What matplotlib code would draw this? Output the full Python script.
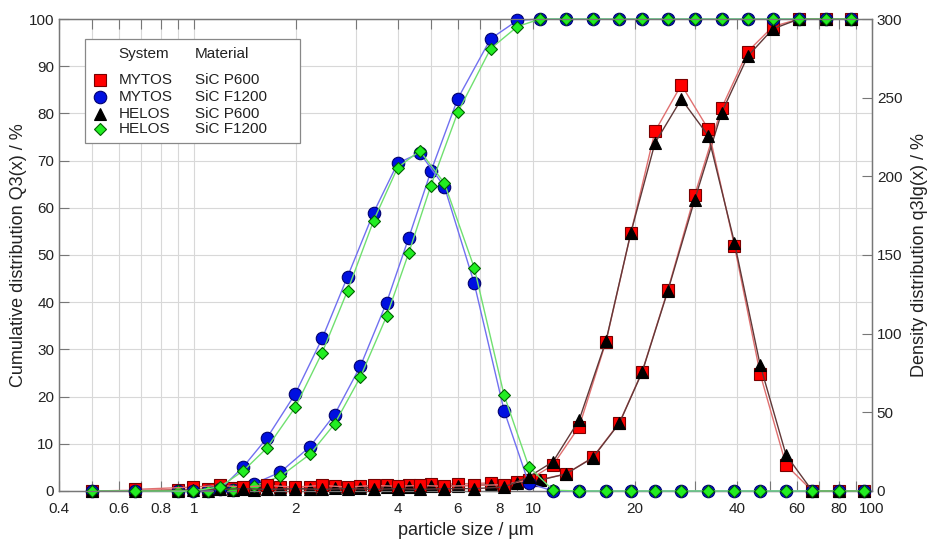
import numpy as np
import matplotlib

matplotlib.use("Agg")
import matplotlib.pyplot as plt
from matplotlib.patches import Rectangle
from matplotlib.lines import Line2D

plt.rcParams["font.family"] = ["Liberation Sans", "DejaVu Sans"]

# class upper bounds (cumulative) and class geometric means (density)
cum_x = [0.5, 0.9, 1.1, 1.3, 1.5, 1.8, 2.2, 2.6, 3.1, 3.7, 4.3, 5.0, 6.0, 7.5,
         9.0, 10.5, 12.5, 15, 18, 21, 25, 30, 36, 43, 51, 61, 73, 87]
dens_x = [0.67, 0.995, 1.196, 1.40, 1.64, 1.99, 2.39, 2.84, 3.39, 3.99, 4.64,
          5.48, 6.71, 8.22, 9.72, 11.46, 13.69, 16.43, 19.44, 22.9, 27.4,
          32.9, 39.3, 46.8, 55.8, 66.7, 79.7, 94.7]

# Q3(x) / %
mytos_p600_q3 = [0, 0.3, 0.5, 0.6, 0.7, 0.8, 0.9, 1.0, 1.1, 1.2, 1.3, 1.4,
                 1.5, 1.7, 2.0, 2.4, 3.6, 7.1, 14.5, 25.3, 42.6, 62.7, 81.1,
                 93.1, 98.4, 100, 100, 100]
mytos_f1200_q3 = [0, 0, 0, 0.3, 1.5, 4.0, 9.4, 16.2, 26.5, 39.9, 53.6, 67.7,
                  83.1, 95.8, 99.7, 100, 100, 100, 100, 100, 100, 100, 100,
                  100, 100, 100, 100, 100]
helos_p600_q3 = [0, 0, 0.1, 0.2, 0.3, 0.4, 0.5, 0.6, 0.7, 0.8, 0.9, 1.0,
                 1.1, 1.3, 1.6, 2.3, 3.6, 7.0, 14.4, 25.2, 42.4, 61.7, 80.1,
                 92.1, 97.9, 100, 100, 100]
helos_f1200_q3 = [0, 0, 0, 0.2, 1.0, 3.1, 7.8, 14.2, 24.2, 37.0, 50.4, 64.7,
                  80.2, 93.7, 98.4, 100, 100, 100, 100, 100, 100, 100, 100,
                  100, 100, 100, 100, 100]

# q3lg(x) / %
mytos_p600_q3lg = [1, 2.5, 3.5, 2.5, 3.5, 2.5, 3.5, 2.5, 3.5, 3, 3.5, 3, 3.5,
                   4, 7, 16.5, 40.9, 95.0, 163.9, 228.5, 258.2, 230, 155.8,
                   74.4, 16.5, 0, 0, 0]
mytos_f1200_q3lg = [0, 0, 1, 15.5, 33.5, 61.7, 97, 136.3, 177, 208.4, 214.8,
                    193.5, 132.1, 51.1, 4.9, 0, 0, 0, 0, 0, 0, 0, 0, 0, 0, 0,
                    0, 0]
helos_p600_q3lg = [0, 0.5, 1, 1.5, 1, 1.5, 1, 1.5, 1, 1.5, 1, 1.5, 1.5, 2.5,
                   9, 18.6, 45.2, 95.5, 164, 221.1, 249.1, 225.8, 157.9, 80.1,
                   22.9, 0, 0, 0]
helos_f1200_q3lg = [0, 0, 2.7, 12.9, 27.2, 53.2, 88, 127.4, 171.9, 205.6,
                    216.2, 195.7, 142, 61, 15.5, 0.5, 0, 0, 0, 0, 0, 0, 0, 0,
                    0, 0, 0, 0]

systems = ["MYTOS", "MYTOS", "HELOS", "HELOS"]
materials = ["SiC P600", "SiC F1200", "SiC P600", "SiC F1200"]

series = [
    (mytos_p600_q3, mytos_p600_q3lg,
     dict(marker="s", ms=9, mfc="#ff0000", mec="#7a0000"), "#e07070"),
    (mytos_f1200_q3, mytos_f1200_q3lg,
     dict(marker="o", ms=9, mfc="#0010e0", mec="#000070"), "#7070f0"),
    (helos_p600_q3, helos_p600_q3lg,
     dict(marker="^", ms=8.5, mfc="#000000", mec="#000000"), "#603838"),
    (helos_f1200_q3, helos_f1200_q3lg,
     dict(marker="D", ms=6.5, mfc="#22ee22", mec="#006000"), "#70e070"),
]

TXT = "#222222"
fig = plt.figure(figsize=(9.29, 5.43), dpi=100)
ax = fig.add_axes([0.0635, 0.0958, 0.8751, 0.8692])
ax2 = ax.twinx()

for i, (q3, q3lg, mk, lc) in enumerate(series):
    ax.plot(cum_x, q3, color=lc, lw=1.0, mew=0.8, clip_on=False,
            zorder=3 + i, **mk)
    ax2.plot(dens_x, q3lg, color=lc, lw=1.0, mew=0.8, clip_on=False,
             zorder=3 + i, **mk)

ax.set_xscale("log")
ax.set_xlim(0.4, 100)
ax.set_ylim(0, 100)
ax2.set_ylim(0, 300)

major = [0.4, 0.6, 0.8, 1, 2, 4, 6, 8, 10, 20, 40, 60, 80, 100]
minor = [0.5, 0.7, 0.9, 3, 5, 7, 9, 30, 50, 70, 90]
ax.set_xticks(major)
ax.set_xticklabels([f"{v:g}" for v in major])
ax.set_xticks(minor, minor=True)
ax.set_xticklabels([], minor=True)
ax.set_yticks(np.arange(0, 101, 10))
ax2.set_yticks(np.arange(0, 301, 50))

ax.grid(True, which="both", axis="x", color="#d8d8d8", lw=0.8)
ax.grid(True, which="major", axis="y", color="#d8d8d8", lw=0.8)
ax.set_axisbelow(True)

for a in (ax, ax2):
    a.tick_params(which="both", direction="in", colors="#777777",
                  labelcolor=TXT, labelsize=11, length=7, width=0.8)
    for s in a.spines.values():
        s.set_color("#777777")
        s.set_linewidth(0.9)
ax.tick_params(axis="x", which="both", top=True, pad=8)

ax.set_xlabel("particle size / µm", fontsize=13, color=TXT, labelpad=4)
ax.set_ylabel("Cumulative distribution Q3(x) / %", fontsize=13, color=TXT,
              labelpad=1)
ax2.set_ylabel("Density distribution q3lg(x) / %", fontsize=13, color=TXT,
               labelpad=6)

# legend box with two text columns
ax2.add_patch(Rectangle((0.032, 0.737), 0.2644, 0.2206,
                        transform=ax.transAxes, fc="white", ec="#888888",
                        lw=0.9, zorder=20, clip_on=False))
ax2.text(0.0726, 0.9258, "System", transform=ax.transAxes, fontsize=11,
         color=TXT, va="center", zorder=21)
ax2.text(0.1673, 0.9258, "Material", transform=ax.transAxes, fontsize=11,
         color=TXT, va="center", zorder=21)
row_y = [0.8708, 0.8341, 0.7981, 0.7663]
for (q3, q3lg, mk, lc), sysname, mat, y in zip(series, systems, materials,
                                               row_y):
    ax2.add_line(Line2D([0.0504], [y], transform=ax.transAxes, ls="none",
                        mew=0.8, zorder=21, **mk))
    ax2.text(0.0735, y, sysname, transform=ax.transAxes, fontsize=11,
             color=TXT, va="center", zorder=21)
    ax2.text(0.1673, y, mat, transform=ax.transAxes, fontsize=11,
             color=TXT, va="center", zorder=21)

fig.savefig("out.png", dpi=100)
